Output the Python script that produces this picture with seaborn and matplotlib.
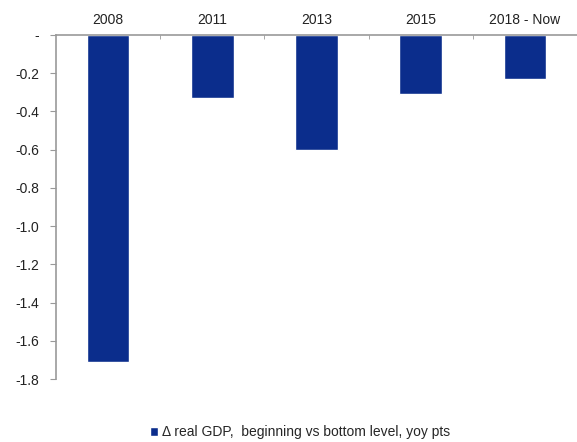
import matplotlib
matplotlib.use('Agg')
import matplotlib.pyplot as plt
import seaborn as sns
import pandas as pd
from matplotlib.ticker import FuncFormatter, FixedLocator

periods = ['2008', '2011', '2013', '2015', '2018 - Now']
gdp_change = [-1.71, -0.33, -0.60, -0.31, -0.23]
series_label = '\u0394 real GDP,  beginning vs bottom level, yoy pts'

df = pd.DataFrame({'period': periods, 'value': gdp_change})

sns.set_style('white')
plt.rcParams['font.family'] = ['Liberation Sans', 'DejaVu Sans']

fig = plt.figure(figsize=(5.77, 4.42), dpi=100)
ax = fig.add_axes([0.097, 0.1425, 0.903, 0.7785])

sns.barplot(data=df, x='period', y='value', color='#0B2D8C', saturation=1,
            width=0.41, ax=ax, label=series_label)

ax.set_ylim(-1.8, 0)
ax.set_xlim(-0.5, 4.5)
ax.set_xlabel('')
ax.set_ylabel('')

# category labels on top
ax.xaxis.tick_top()
ax.tick_params(axis='x', which='major', length=0, pad=6, labelsize=10, colors='#222222')
ax.xaxis.set_minor_locator(FixedLocator([0.5, 1.5, 2.5, 3.5]))
ax.tick_params(axis='x', which='minor', top=True, direction='in', length=3, color='#999999')

ax.set_yticks([-1.8, -1.6, -1.4, -1.2, -1.0, -0.8, -0.6, -0.4, -0.2, 0])
ax.yaxis.set_major_formatter(FuncFormatter(lambda v, p: '-' if abs(v) < 1e-9 else f'{v:.1f}'))
ax.tick_params(axis='y', left=True, direction='out', length=4, color='#999999',
               labelsize=10, labelcolor='#222222', pad=8)

for s in ['bottom', 'right']:
    ax.spines[s].set_visible(False)
for s in ['top', 'left']:
    ax.spines[s].set_color('#999999')
    ax.spines[s].set_linewidth(1.2)

handles, labels = ax.get_legend_handles_labels()
if ax.get_legend() is not None:
    ax.get_legend().remove()
fig.legend(handles, labels, loc='lower center', bbox_to_anchor=(0.52, -0.022),
           frameon=False, fontsize=10, handlelength=0.6, handleheight=0.6,
           handletextpad=0.3)

fig.savefig('out.png', dpi=100)
